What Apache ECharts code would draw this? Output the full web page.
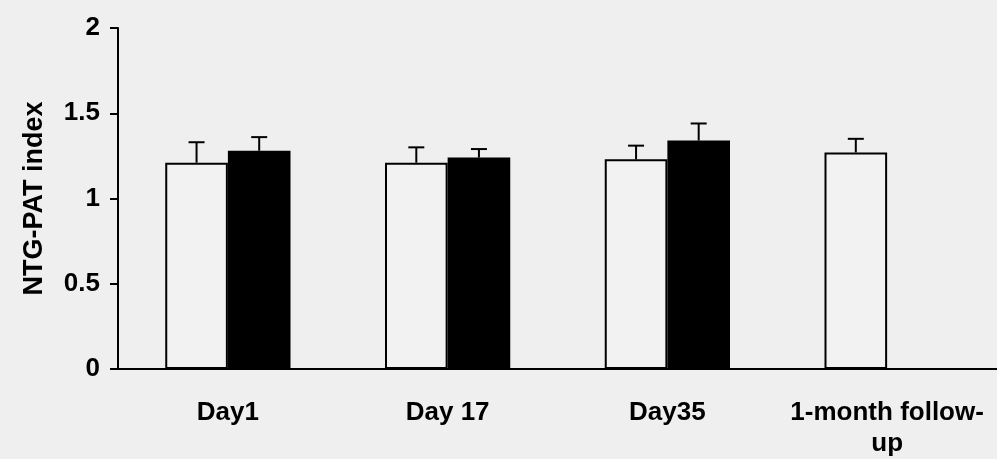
<!DOCTYPE html>
<html>
<head>
<meta charset="utf-8">
<script src="https://cdn.jsdelivr.net/npm/echarts@6/dist/echarts.min.js"></script>
<style>
  html, body { margin: 0; padding: 0; background: #efefef; }
  #chart { width: 997px; height: 459px; }
</style>
</head>
<body>
<div id="chart"></div>
<script>
// data
var categories = ["Day1", "Day 17", "Day35", "1-month follow-up"];
var whiteMeans = [1.21, 1.21, 1.23, 1.27];
var whiteErr = [0.12, 0.09, 0.08, 0.08];
var blackMeans = [1.28, 1.24, 1.34, null];
var blackErr = [0.08, 0.05, 0.10, null];
var yTicks = [0, 0.5, 1, 1.5, 2];

var GAP = 0.43; // barCategoryGap as a fraction

function errData(means, errs) {
  var res = [];
  for (var i = 0; i < means.length; i++) {
    if (means[i] == null) continue;
    res.push([i, means[i], errs[i]]);
  }
  return res;
}

// side: -1 left bar, +1 right bar
function errRenderer(side) {
  return function (params, api) {
    var idx = api.value(0);
    var band = api.size([1, 0])[0];
    var off = side * band * (1 - GAP) / 4;
    var base = api.coord([idx, api.value(1)]);
    var top = api.coord([idx, api.value(1) + api.value(2)]);
    var x = base[0] + off;
    var cap = 8;
    var st = { stroke: "#000", lineWidth: 2 };
    return {
      type: "group",
      children: [
        { type: "line", shape: { x1: x, y1: base[1], x2: x, y2: top[1] }, style: st },
        { type: "line", shape: { x1: x - cap, y1: top[1], x2: x + cap, y2: top[1] }, style: st }
      ]
    };
  };
}

var chart = echarts.init(document.getElementById("chart"));
var font = "'Liberation Sans', Arial, sans-serif";

var option = {
  backgroundColor: "#efefef",
  animation: false,
  grid: { left: 118, right: 0, top: 28, bottom: 90, containLabel: false },
  xAxis: {
    type: "category",
    data: categories,
    axisLine: { show: true, lineStyle: { color: "#000", width: 2 } },
    axisTick: { show: false },
    axisLabel: {
      interval: 0,
      margin: 28,
      color: "#000",
      fontFamily: font,
      fontWeight: "bold",
      fontSize: 26,
      lineHeight: 31,
      formatter: function (v) { return v.replace("follow-", "follow-\n"); }
    }
  },
  yAxis: {
    type: "value",
    min: yTicks[0],
    max: yTicks[yTicks.length - 1],
    interval: 0.5,
    name: "NTG-PAT index",
    nameLocation: "middle",
    nameGap: 70,
    nameTextStyle: { color: "#000", fontFamily: font, fontWeight: "bold", fontSize: 27 },
    axisLine: { show: true, lineStyle: { color: "#000", width: 2 } },
    axisTick: { show: true, inside: false, length: 8, lineStyle: { color: "#000", width: 2 } },
    splitLine: { show: false },
    axisLabel: {
      margin: 18,
      color: "#000",
      fontFamily: font,
      fontWeight: "bold",
      fontSize: 26
    }
  },
  series: [
    {
      type: "bar",
      name: "white",
      data: whiteMeans,
      barGap: "0%",
      barCategoryGap: GAP * 100 + "%",
      itemStyle: { color: "#f2f2f2", borderColor: "#000", borderWidth: 2 }
    },
    {
      type: "bar",
      name: "black",
      data: blackMeans.map(function (v) { return v == null ? "-" : v; }),
      barGap: "0%",
      barCategoryGap: GAP * 100 + "%",
      itemStyle: { color: "#000", borderColor: "#000", borderWidth: 2 }
    },
    {
      type: "custom",
      renderItem: errRenderer(-1),
      data: errData(whiteMeans, whiteErr),
      z: 1
    },
    {
      type: "custom",
      renderItem: errRenderer(1),
      data: errData(blackMeans, blackErr),
      z: 1
    }
  ]
};
chart.setOption(option);
</script>
</body>
</html>
